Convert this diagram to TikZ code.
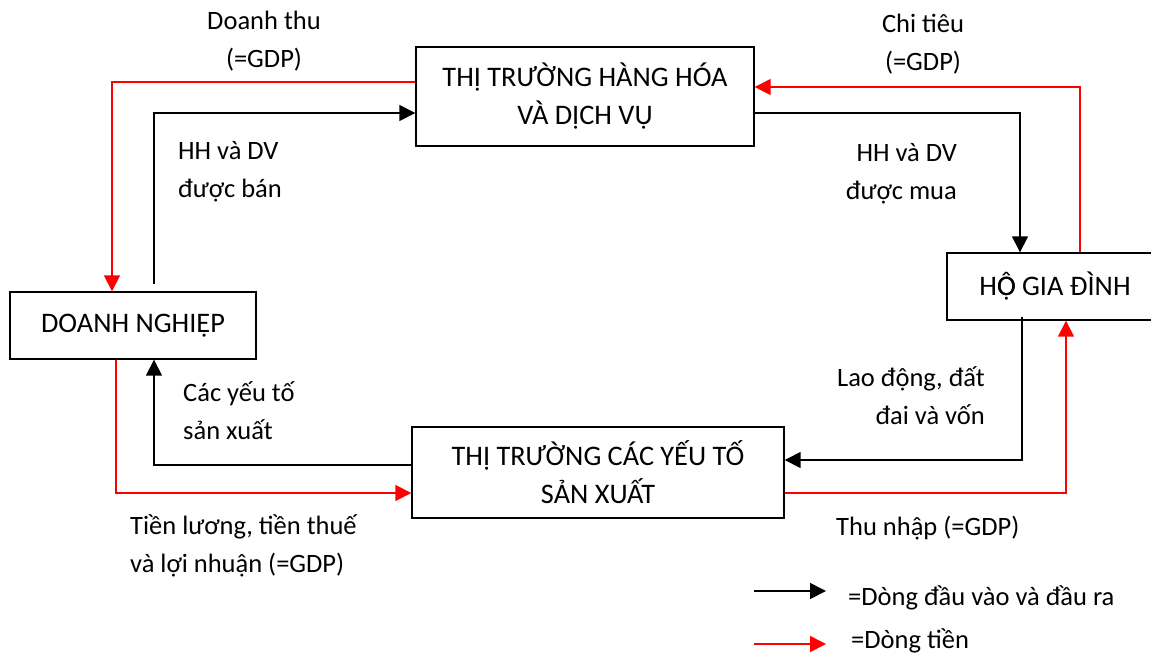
\documentclass[tikz,border=0pt]{standalone}
\usepackage{fontspec}
\setmainfont{Carlito}
\usetikzlibrary{arrows.meta}
\definecolor{flowred}{RGB}{255,0,0}
\newcommand\myOhat{\rlap{Ọ}Ô}
\begin{document}
\begin{tikzpicture}[x=1pt,y=-1pt,
  box/.style={draw=black,line width=1.4pt,rectangle,inner sep=0pt,align=center,font=\fontsize{28.3}{38}\selectfont},
  lbl/.style={inner sep=0pt,font=\fontsize{26.5}{38}\selectfont},
  goods/.style={draw=black,line width=1.6pt,-{Triangle[length=16pt,width=16pt]}},
  money/.style={draw=flowred,line width=1.6pt,-{Triangle[length=16pt,width=16pt]}}]
\clip (0,0) rectangle (1151,654);
\fill[white] (0,0) rectangle (1151,654);
% boxes
\node[box,minimum width=338pt,minimum height=99pt] (top) at (585,96.5) {THỊ TRƯỜNG HÀNG HÓA\\VÀ DỊCH VỤ};
\node[box,minimum width=216pt,minimum height=67pt] (hh) at (1055,286.5) {H\myOhat{} GIA ĐÌNH};
\node[box,minimum width=246pt,minimum height=67pt] (firm) at (133,325.5) {DOANH NGHIỆP};
\node[box,minimum width=372pt,minimum height=91pt] (bot) at (598,472.5) {THỊ TRƯỜNG CÁC YẾU TỐ\\SẢN XUẤT};
% connectors
\draw[money] ([yshift=14.5pt]top.west) -| ([xshift=-21pt]firm.north);
\draw[goods] ([xshift=21pt,yshift=7pt]firm.north) |- ([yshift=-16.5pt]top.west);
\draw[goods] ([yshift=-16.5pt]top.east) -| ([xshift=-35pt]hh.north);
\draw[money] ([xshift=25pt]hh.north) |- ([yshift=9.5pt]top.east);
\draw[goods] ([xshift=-33pt,yshift=4pt]hh.south) |- ([yshift=12.5pt]bot.east);
\draw[money] ([yshift=-20.5pt]bot.east) -| ([xshift=11pt]hh.south);
\draw[goods] ([yshift=7.5pt]bot.west) -| ([xshift=21pt]firm.south);
\draw[money] ([xshift=-17pt]firm.south) |- ([yshift=-20.5pt]bot.west);
% labels
\node[lbl,align=center] (l1) at (264,41) {Doanh thu\\(=GDP)};
\node[lbl,align=left,anchor=west] (l2) at (178,172) {HH và DV\\được bán};
\node[lbl,align=center] (l3) at (923,44) {Chi tiêu\\(=GDP)};
\node[lbl,align=right,anchor=east] (l4) at (957,174) {HH và DV\\được mua};
\node[lbl,align=left,anchor=west] (l5) at (183,411) {Các yếu tố\\sản xuất};
\node[lbl,align=right,anchor=east] (l6) at (985,396) {Lao động, đất\\đai và vốn};
\node[lbl,align=left,anchor=west] (l7) at (130,546) {Tiền lương, tiền thuế\\và lợi nhuận (=GDP)};
\node[lbl,anchor=west] (l8) at (836,528) {Thu nhập (=GDP)};
% legend
\coordinate (k1a) at (754,591);
\coordinate (k1b) at (826,591);
\coordinate (k2a) at (754,644);
\coordinate (k2b) at (826,644);
\draw[goods] (k1a) -- (k1b);
\draw[money] (k2a) -- (k2b);
\node[lbl,anchor=west] (t1) at (848,598) {=Dòng đầu vào và đầu ra};
\node[lbl,anchor=west] (t2) at (851,641) {=Dòng tiền};
\end{tikzpicture}
\end{document}
